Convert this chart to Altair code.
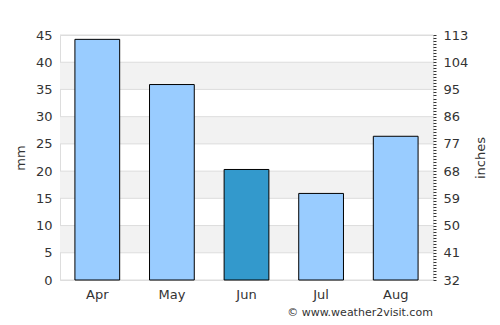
import altair as alt
import pandas as pd

months = ["Apr", "May", "Jun", "Jul", "Aug"]
rain_mm = [44.2, 35.9, 20.3, 15.9, 26.4]
bar_colors = ["#99ccff", "#99ccff", "#3399cc", "#99ccff", "#99ccff"]
band_lo = [5, 15, 25, 35]
band_hi = [10, 20, 30, 40]
grid_vals = list(range(0, 50, 5))
right_ticks = list(range(32, 114))

W, H = 373, 245
FONT = "DejaVu Sans"

df = pd.DataFrame({"month": months, "mm": rain_mm, "color": bar_colors})
bands_df = pd.DataFrame({"lo": band_lo, "hi": band_hi})
grid_df = pd.DataFrame({"g": grid_vals})
right_df = pd.DataFrame({"v": [32, 113]})

yscale = alt.Scale(domain=[0, 45], nice=False)
left_axis = alt.Axis(values=grid_vals, title="mm", ticks=False, domain=False, grid=False,
                     labelPadding=8, titlePadding=8, labelColor="#333", titleColor="#333",
                     labelFontSize=13, titleFontSize=13, titleFontWeight="normal",
                     labelFont=FONT, titleFont=FONT)

bands = alt.Chart(bands_df).mark_rect(color="#f2f2f2").encode(
    x=alt.value(0), x2=alt.value(W),
    y=alt.Y("lo:Q", scale=yscale, axis=left_axis), y2="hi:Q")

grid = alt.Chart(grid_df).mark_rule(color="#dddddd", strokeWidth=1).encode(
    y=alt.Y("g:Q", scale=yscale, axis=left_axis))

bars = alt.Chart(df).mark_bar(stroke="black", strokeWidth=1).encode(
    x=alt.X("month:N", sort=months,
            scale=alt.Scale(paddingInner=0.4, paddingOuter=0.2),
            axis=alt.Axis(title=None, labelAngle=0, ticks=False, domain=False,
                          labelPadding=8, labelColor="#333", labelFontSize=13, labelFont=FONT)),
    y=alt.Y("mm:Q", scale=yscale, axis=left_axis),
    color=alt.Color("color:N", scale=None),
)

right = alt.Chart(right_df).mark_point(opacity=0).encode(
    y=alt.Y("v:Q", scale=alt.Scale(domain=[32, 113], nice=False, zero=False),
            axis=alt.Axis(orient="right", values=right_ticks,
                          labelExpr="(datum.value - 32) % 9 == 0 ? datum.label : ''",
                          tickSize=3, tickColor="#333", domain=False, grid=False,
                          labelOverlap=False, labelPadding=7, title="inches",
                          titleAngle=270, titlePadding=20, labelColor="#333", titleColor="#333",
                          labelFontSize=13, titleFontSize=13, titleFontWeight="normal",
                          labelFont=FONT, titleFont=FONT)))

credit = alt.Chart(pd.DataFrame({"t": ["© www.weather2visit.com"]})).mark_text(
    fontSize=11, font=FONT, color="#333", align="center", baseline="middle").encode(
    text="t:N", x=alt.value(300), y=alt.value(278))

main = alt.layer(bands, grid, bars, credit)
chart = alt.layer(main, right).resolve_scale(y="independent").properties(
    width=W, height=H,
    autosize=alt.AutoSizeParams(type="none"),
    padding={"left": 60, "top": 35, "right": 67, "bottom": 45},
).configure_view(stroke="#dddddd").configure(background="white")

chart.save("out.html", embed_options={"renderer": "svg", "actions": False})
